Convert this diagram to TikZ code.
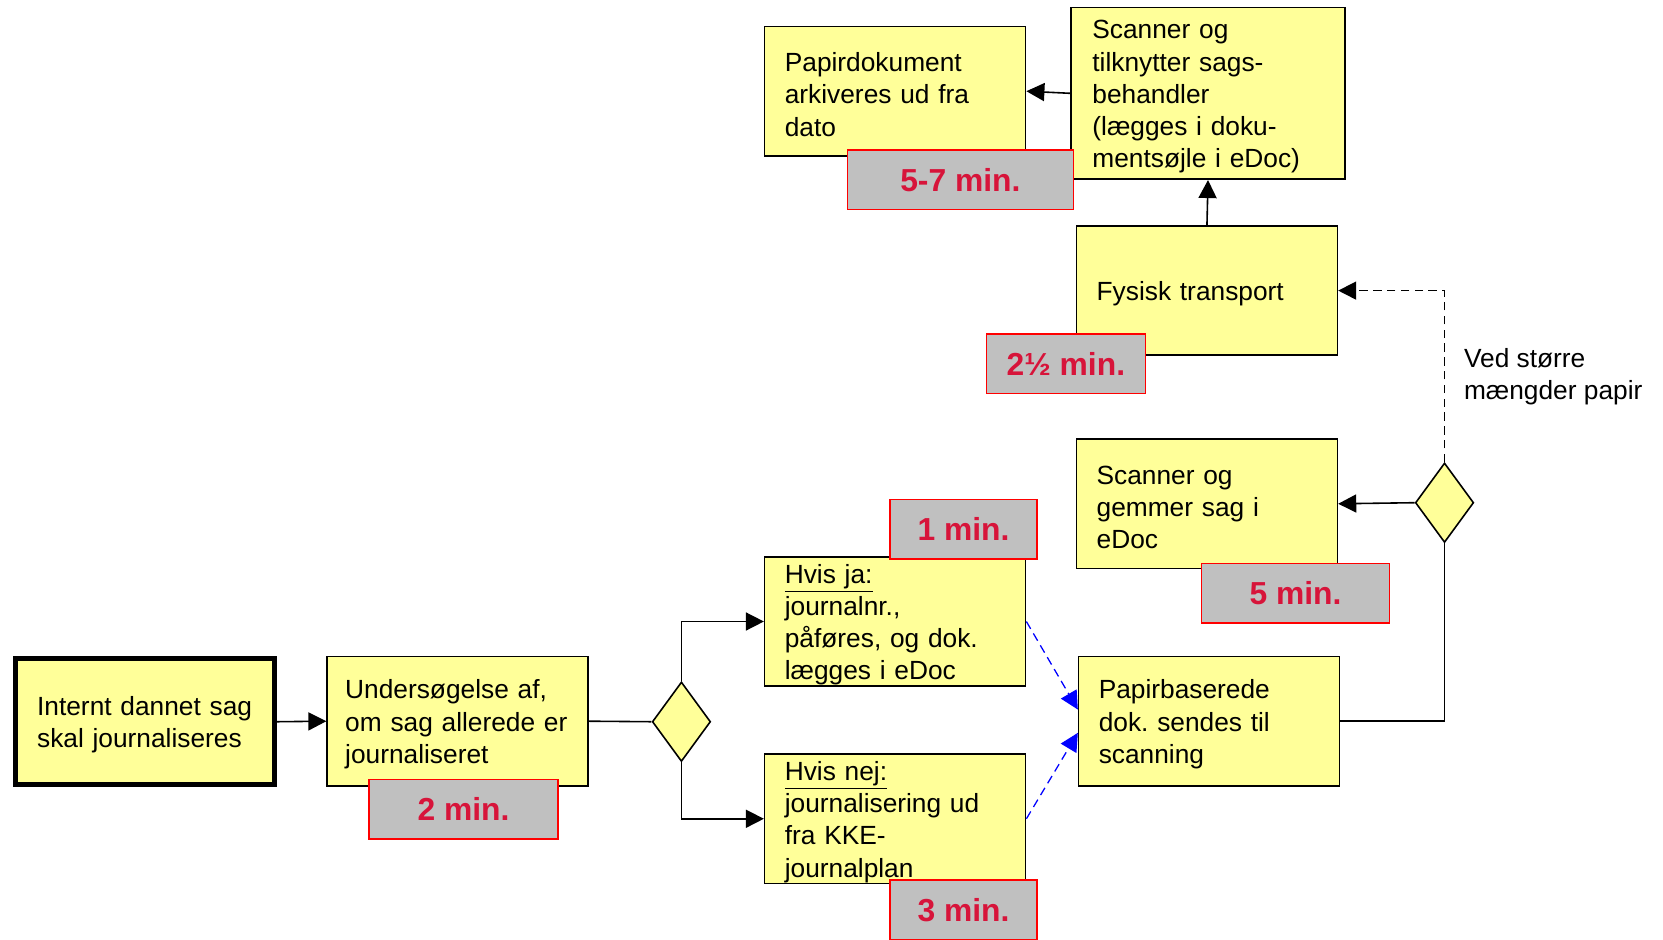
\documentclass[tikz,border=0pt]{standalone}
\usepackage{fontspec}
\setmainfont{Liberation Sans}
\usepackage{xcolor}
\usetikzlibrary{arrows.meta}
\usetikzlibrary{shapes.geometric}
\definecolor{boxyellow}{RGB}{255,255,153}
\definecolor{timegray}{RGB}{192,192,192}
\definecolor{timered}{RGB}{215,20,58}

\begin{document}
\begin{tikzpicture}[x=0.5pt, y=-0.5pt,
  >={Triangle[length=8.5pt,width=8.5pt]},
  proc/.style={draw, line width=0.75pt, fill=boxyellow, minimum width=123pt, minimum height=61pt,
    inner xsep=9.5pt, inner ysep=0pt, text width=104pt, align=left,
    font=\fontsize{12.4}{15.2}\selectfont\frenchspacing,
    execute at begin node={\rule{0pt}{12pt}}},
  timebox/.style={draw=red, line width=0.75pt, fill=timegray, text=timered, minimum height=28pt,
    inner sep=0pt, font=\fontsize{15}{18}\selectfont\bfseries},
  choice/.style={diamond, draw, line width=0.75pt, fill=boxyellow, minimum width=27.5pt,
    minimum height=37.5pt, inner sep=0pt},
  flow/.style={line width=0.75pt},
  scanflow/.style={line width=0.6pt, blue, dash pattern=on 4pt off 2.5pt}
]
\useasboundingbox (0,0) rectangle (1568,886);

% process boxes
\node[proc, line width=2.3pt, minimum width=122pt, minimum height=59.5pt, inner xsep=10pt, text width=102pt]
  (start) at (137,680.5) {Internt dannet sag\\skal journaliseres};
\node[proc, inner xsep=8.5pt, text width=106pt] (unders) at (431.5,680) {Undersøgelse af,\\om sag allerede er\\journaliseret};
\node[choice] (d1) at (642.5,680.5) {};
\node[proc] (ja) at (844,586) {\underline{Hvis ja:}\\journalnr.,\\påføres, og dok.\\lægges i eDoc};
\node[proc] (nej) at (844,772) {\underline{Hvis nej:}\\journalisering ud\\fra KKE-\\journalplan};
\node[proc] (papir) at (1140,680) {Papirbaserede\\dok. sendes til\\scanning};
\node[proc] (gemmer) at (1138,475) {Scanner og\\gemmer sag i\\eDoc};
\node[choice] (d2) at (1362,474) {};
\node[proc] (fysisk) at (1138,274) {Fysisk transport};
\node[proc, minimum width=129pt, minimum height=81pt, inner xsep=10pt, text width=109pt]
  (tilknyt) at (1139,88) {Scanner og\\tilknytter sags-\\behandler\\(lægges i doku-\\mentsøjle i eDoc)};
\node[proc] (papirdok) at (844,86) {Papirdokument\\arkiveres ud fra\\dato};
\node[anchor=west, align=left, inner sep=0pt, font=\fontsize{12.4}{15.2}\selectfont]
  (mengde) at (1380,355) {Ved større\\mængder papir};

% connectors
\draw[flow,->] (start.east) -- (unders.west);
\draw[flow] (unders.east) -- (d1.west);
\draw[flow,->] (d1.north) |- (ja.west);
\draw[flow,->] (d1.south) |- (nej.west);
\draw[scanflow,->] (ja.east) -- ([yshift=5.5pt]papir.west);
\draw[scanflow,->] (nej.east) -- ([yshift=-5.5pt]papir.west);
\draw[flow] (papir.east) -| (d2.south);
\draw[flow,->] (d2.west) -- (gemmer.east);
\draw[flow,->,dash pattern=on 4pt off 2.5pt] (d2.north) |- (fysisk.east);
\draw[flow,->] (fysisk.north) -- (tilknyt.south);
\draw[flow,->] (tilknyt.west) -- (papirdok.east);

% time labels
\node[timebox, minimum width=89pt] (t2) at (437,763) {2 min.};
\node[timebox, minimum width=69.5pt] (t1) at (908.5,499) {1 min.};
\node[timebox, minimum width=69.5pt] (t3) at (908.5,858) {3 min.};
\node[timebox, minimum width=88.5pt] (t5) at (1221.5,559.5) {5 min.};
\node[timebox, minimum width=75pt] (t25) at (1005,343) {2½ min.};
\node[timebox, minimum width=106.5pt] (t57) at (905.5,169.5) {5-7 min.};
\end{tikzpicture}
\end{document}
